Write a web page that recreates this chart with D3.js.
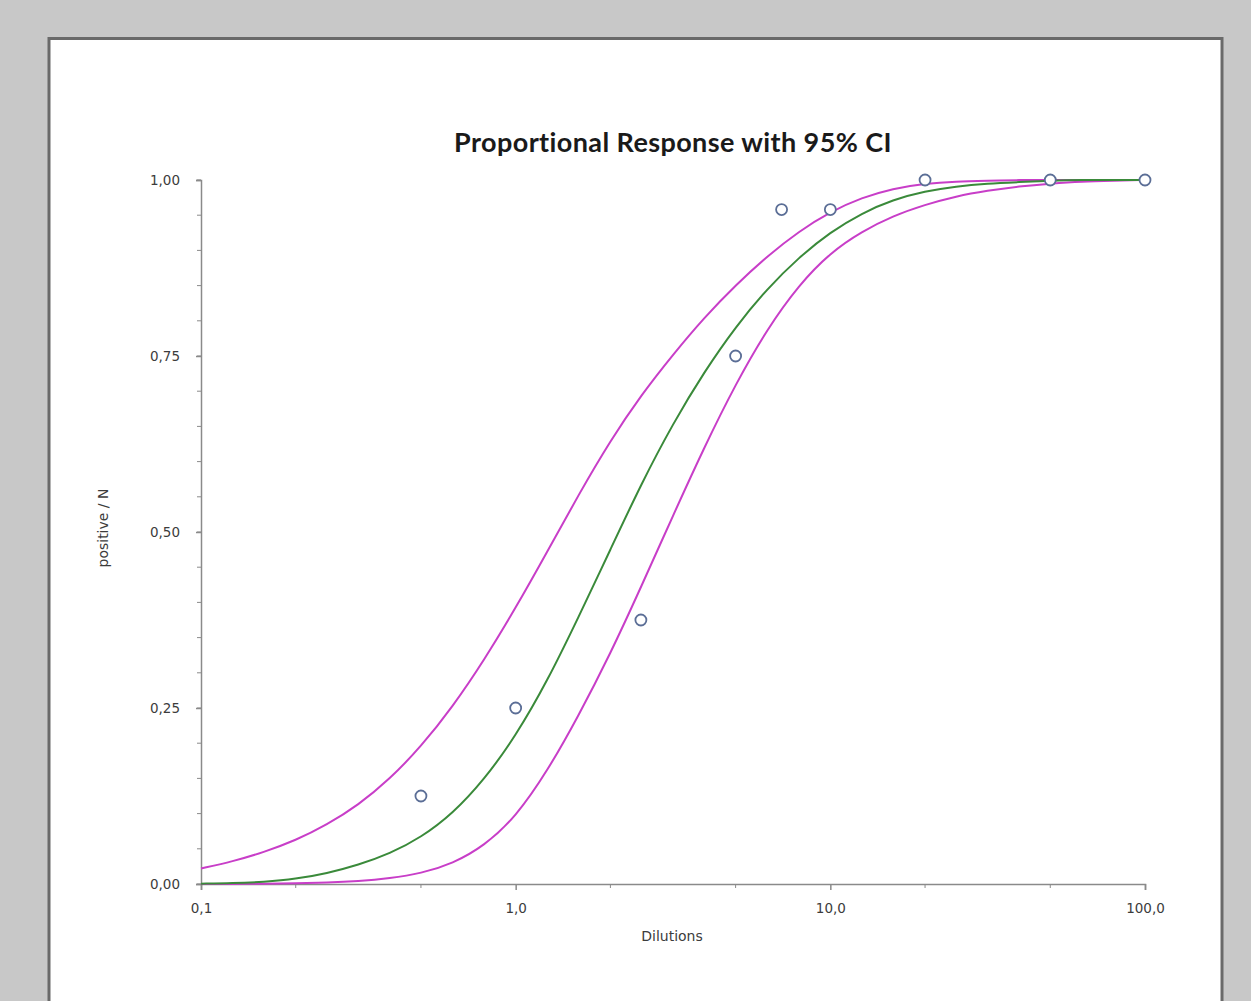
<!DOCTYPE html>
<html>
<head>
<meta charset="utf-8">
<script src="https://cdn.jsdelivr.net/npm/d3@7"></script>
<style>
  body { margin: 0; background: #c8c8c8; }
  svg { display: block; }
</style>
</head>
<body>
<script>
// observed proportions
var obsDilutions = [0.5, 1, 2.5, 5, 7, 10, 20, 50, 100]
var obsProportion = [0.125, 0.25, 0.375, 0.75, 0.958, 0.958, 1, 1, 1]

// fitted curve and 95% CI
var curveDilutions = [0.1, 0.126, 0.158, 0.2, 0.251, 0.316, 0.398, 0.5, 0.631, 0.794,
                      1, 1.26, 1.58, 2, 2.51, 3.16, 3.98, 5.01, 6.31, 7.94,
                      10, 12.6, 15.8, 20, 25.1, 31.6, 39.8, 50.1, 63.1, 79.4, 100]
var fitted = [0.0005, 0.001, 0.003, 0.007, 0.015, 0.027, 0.043, 0.066, 0.100, 0.148,
              0.21, 0.288, 0.378, 0.475, 0.569, 0.654, 0.728, 0.792, 0.846, 0.890,
              0.926, 0.953, 0.972, 0.984, 0.991, 0.995, 0.997, 0.999, 1, 1, 1]
var upperCI = [0.022, 0.032, 0.045, 0.062, 0.084, 0.112, 0.149, 0.195, 0.252, 0.318,
               0.392, 0.472, 0.552, 0.63, 0.695, 0.752, 0.805, 0.851, 0.892, 0.927,
               0.955, 0.975, 0.988, 0.995, 0.998, 0.999, 1, 1, 1, 1, 1]
var lowerCI = [0, 0, 0.0005, 0.001, 0.002, 0.004, 0.008, 0.015, 0.029, 0.054,
               0.095, 0.160, 0.238, 0.327, 0.423, 0.523, 0.621, 0.711, 0.789, 0.851,
               0.897, 0.927, 0.949, 0.965, 0.977, 0.985, 0.991, 0.995, 0.998, 0.999, 1]

var xTicks = [0.1, 1, 10, 100]
var xMinor = [0.2, 0.5, 2, 5, 20, 50]
var yTicks = [0, 0.25, 0.5, 0.75, 1]

var width = 1251, height = 1001

var svg = d3.select('body').append('svg')
    .attr('width', width)
    .attr('height', height)

// chart frame
svg.append('rect')
    .attr('x', 49).attr('y', 38.5)
    .attr('width', 1173).attr('height', 1000)
    .attr('fill', '#fff')
    .attr('stroke', '#6a6a6a')
    .attr('stroke-width', 3)

var x = d3.scaleLog().domain([0.1, 100]).range([201, 1145])
var y = d3.scaleLinear().domain([0, 1]).range([884, 180])

var comma = function(fmt) { return function(v) { return d3.format(fmt)(v).replace('.', ',') } }

var axisColor = '#8a8a8a'
var font = '"DejaVu Sans", Verdana, sans-serif'

// y axis
var yAxis = d3.axisLeft(y).tickValues(yTicks).tickFormat(comma('.2f')).tickSize(5).tickPadding(16)
var gy = svg.append('g').attr('transform', 'translate(' + x(0.1) + ',0)').call(yAxis)
gy.append('g').selectAll('line')
    .data(d3.range(0, 1.0001, 0.05))
    .enter().append('line')
        .attr('x1', -4).attr('x2', 0)
        .attr('y1', d => y(d)).attr('y2', d => y(d))
        .attr('stroke', axisColor)

// x axis
var xAxis = d3.axisBottom(x).tickValues(xTicks).tickFormat(comma('.1f')).tickSize(6).tickPadding(13)
var gx = svg.append('g').attr('transform', 'translate(0,' + y(0) + ')').call(xAxis)
gx.append('g').selectAll('line')
    .data(xMinor)
    .enter().append('line')
        .attr('x1', d => x(d)).attr('x2', d => x(d))
        .attr('y1', 0).attr('y2', 4)
        .attr('stroke', axisColor)

svg.selectAll('.domain, .tick line').attr('stroke', axisColor).attr('stroke-width', 1.5)
svg.selectAll('.tick text')
    .attr('fill', '#3c3c3c')
    .style('font-family', font)
    .style('font-size', '13.5px')

// titles
svg.append('text')
    .attr('x', 673).attr('y', 152)
    .attr('text-anchor', 'middle')
    .style('font-family', 'Lato, "Open Sans", sans-serif')
    .style('font-weight', 'bold')
    .style('font-size', '27px')
    .style('letter-spacing', '0.4px')
    .attr('fill', '#1a1a1a')
    .text('Proportional Response with 95% CI')

svg.append('text')
    .attr('x', 672).attr('y', 941)
    .attr('text-anchor', 'middle')
    .style('font-family', font)
    .style('font-size', '14px')
    .attr('fill', '#3c3c3c')
    .text('Dilutions')

svg.append('text')
    .attr('transform', 'translate(108,528) rotate(-90)')
    .attr('text-anchor', 'middle')
    .style('font-family', font)
    .style('font-size', '14px')
    .attr('fill', '#3c3c3c')
    .text('positive / N')

// curves
var line = d3.line()
    .x(d => x(d[0]))
    .y(d => y(d[1]))
    .curve(d3.curveBasis)

function series(vals) { return curveDilutions.map((d, i) => [d, vals[i]]) }

var curves = [
    { vals: lowerCI, color: '#c83ec8' },
    { vals: upperCI, color: '#c83ec8' },
    { vals: fitted, color: '#3a8a3a' }
]
curves.forEach(function(c) {
    svg.append('path')
        .attr('d', line(series(c.vals)))
        .attr('fill', 'none')
        .attr('stroke', c.color)
        .attr('stroke-width', 2)
})

// observed points
svg.append('g').selectAll('circle')
    .data(obsDilutions.map((d, i) => [d, obsProportion[i]]))
    .enter().append('circle')
        .attr('cx', d => x(d[0]))
        .attr('cy', d => y(d[1]))
        .attr('r', 5.5)
        .attr('fill', '#fff')
        .attr('stroke', '#5b6e96')
        .attr('stroke-width', 1.8)
</script>
</body>
</html>
